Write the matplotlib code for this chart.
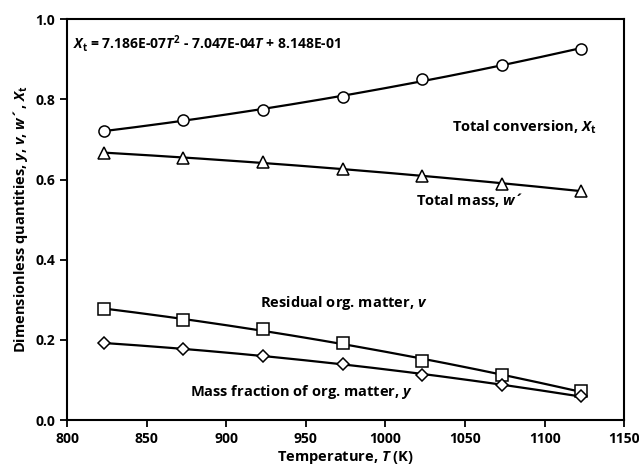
import matplotlib.pyplot as plt
import numpy as np

plt.rcParams['font.family'] = ['Open Sans', 'DejaVu Sans']
plt.rcParams['mathtext.fontset'] = 'custom'
plt.rcParams['mathtext.rm'] = 'Open Sans:bold'
plt.rcParams['mathtext.bf'] = 'Open Sans:bold'
plt.rcParams['mathtext.it'] = 'Open Sans:italic:bold'
plt.rcParams['mathtext.bfit'] = 'Open Sans:italic:bold'

# temperatures (K)
T = [823, 873, 923, 973, 1023, 1073, 1123]
# total conversion X_t
Xt = [0.722, 0.748, 0.773, 0.806, 0.851, 0.887, 0.926]
# total mass w'
w = [0.667, 0.655, 0.643, 0.626, 0.609, 0.590, 0.572]
# residual organic matter v
v = [0.278, 0.250, 0.226, 0.193, 0.148, 0.112, 0.072]
# mass fraction of organic matter y
y = [0.192, 0.177, 0.161, 0.140, 0.113, 0.088, 0.059]

fig = plt.figure(figsize=(6.39, 4.67), dpi=100)
ax = fig.add_axes([0.105, 0.1006, 0.872, 0.858])

Tf = np.linspace(min(T), max(T), 200)
for data, mk in [(Xt, 'o'), (w, '^'), (v, 's'), (y, 'D')]:
    c = np.polyfit(T, data, 2)
    ax.plot(Tf, np.polyval(c, Tf), color='black', lw=1.6, zorder=2)
    ms = 6 if mk == 'D' else 8
    ax.plot(T, data, mk, ms=ms, mfc='white', mec='black', mew=1.1, zorder=3)

ax.set_xlim(800, 1150)
ax.set_ylim(0, 1.0)
ax.set_xticks(np.arange(800, 1151, 50))
ax.set_yticks(np.arange(0, 1.01, 0.2))
ax.set_yticklabels(['%.1f' % t for t in np.arange(0, 1.01, 0.2)])
ax.tick_params(direction='out', width=1.3, length=5, labelsize=10)
for lab in ax.get_xticklabels() + ax.get_yticklabels():
    lab.set_fontweight('bold')
for s in ax.spines.values():
    s.set_linewidth(1.5)

ax.set_xlabel(r'Temperature, $\mathit{T}$ (K)', fontsize=10.5, fontweight='bold', labelpad=2)
ax.set_ylabel(r"Dimensionless quantities, $\mathit{y}$, $\mathit{v}$, $\mathit{w}$´, $\mathit{X}_\mathrm{t}$",
              fontsize=10.5, fontweight='bold', labelpad=4)

fs = 10.5
ax.text(804, 0.94, r'$\mathit{X}_\mathrm{t}$ = 7.186E-07$\mathit{T}^\mathrm{2}$ - 7.047E-04$\mathit{T}$ + 8.148E-01',
        fontsize=10, fontweight='bold', va='center')
ax.text(1042, 0.731, r'Total conversion, $\mathit{X}_\mathrm{t}$', fontsize=fs, fontweight='bold', va='center')
ax.text(1019, 0.549, r'Total mass, $\mathit{w}$´', fontsize=fs, fontweight='bold', va='center')
ax.text(921, 0.292, r'Residual org. matter, $\mathit{v}$', fontsize=fs, fontweight='bold', va='center')
ax.text(877, 0.07, r'Mass fraction of org. matter, $\mathit{y}$', fontsize=fs, fontweight='bold', va='center')

fig.savefig('out.png', dpi=100)
